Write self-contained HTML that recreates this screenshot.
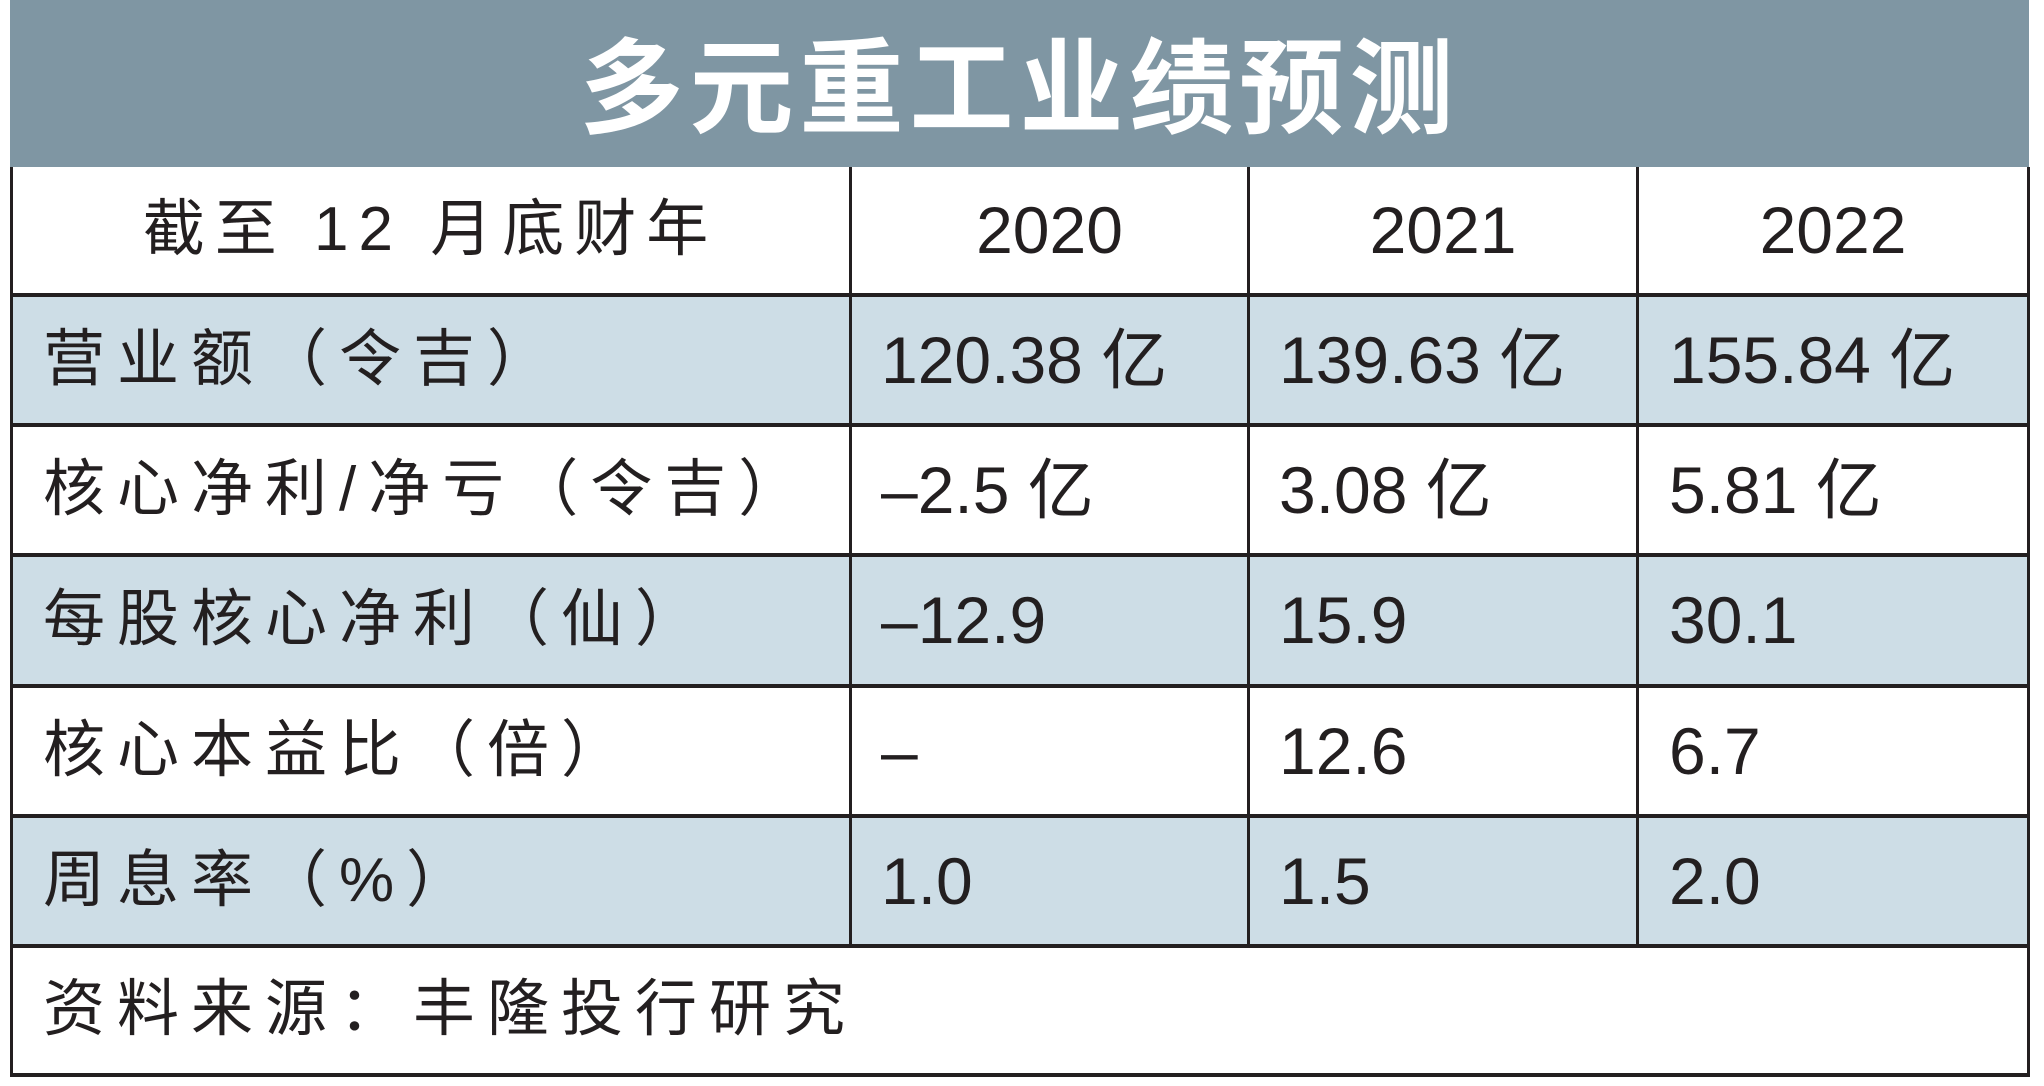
<!DOCTYPE html>
<html><head><meta charset="utf-8"><style>
html,body{margin:0;padding:0;background:#fff}
#wrap{position:relative;width:2044px;height:1086px;overflow:hidden;background:#fff;font-family:"Liberation Sans","Noto Sans CJK SC",sans-serif;color:#231f20}
.hdr{position:absolute;left:10px;top:0;width:2019px;height:167px;background:#7f96a3}
.title{position:absolute;left:10px;top:0;width:2019px;height:167px;line-height:160px;text-align:center;color:#fff;font-weight:bold;font-size:104px;letter-spacing:6px;font-family:"Noto Sans CJK SC",sans-serif}
.row{position:absolute;left:10px;width:2019px}
.blue{background:#cddde6}
.hl{position:absolute;left:10px;width:2020px;height:4px;background:#231f20}
.vl{position:absolute;width:3px;background:#231f20}
.cell{position:absolute;font-size:62px;line-height:62px;white-space:nowrap}
.num{font-size:66px;line-height:62px}
.lab{letter-spacing:12px}
.c{text-align:center}
</style></head><body>
<div id="wrap">
<div class="hdr"></div>
<div class="title">多元重工业绩预测</div>

<div class="row blue" style="top:295px;height:130px"></div>
<div class="row blue" style="top:555px;height:131px"></div>
<div class="row blue" style="top:816px;height:130px"></div>

<div class="hl" style="top:293px"></div>
<div class="hl" style="top:423px"></div>
<div class="hl" style="top:553px"></div>
<div class="hl" style="top:684px"></div>
<div class="hl" style="top:814px"></div>
<div class="hl" style="top:944px"></div>
<div class="hl" style="top:1073px"></div>
<div class="vl" style="left:10px;top:167px;height:909px"></div>
<div class="vl" style="left:2027px;top:167px;height:909px"></div>
<div class="vl" style="left:849px;top:167px;height:779px"></div>
<div class="vl" style="left:1247px;top:167px;height:779px"></div>
<div class="vl" style="left:1636px;top:167px;height:779px"></div>

<div class="cell c" style="left:12px;width:837px;top:199px;letter-spacing:10px">截至 12 月底财年</div>
<div class="cell c num" style="left:852px;width:395px;top:199px">2020</div>
<div class="cell c num" style="left:1250px;width:386px;top:199px">2021</div>
<div class="cell c num" style="left:1639px;width:388px;top:199px">2022</div>

<div class="cell lab" style="left:43px;top:329px">营业额（令吉）</div>
<div class="cell num" style="left:881px;top:329px">120.38 亿</div>
<div class="cell num" style="left:1279px;top:329px">139.63 亿</div>
<div class="cell num" style="left:1669px;top:329px">155.84 亿</div>

<div class="cell lab" style="left:43px;top:459px">核心净利/净亏（令吉）</div>
<div class="cell num" style="left:881px;top:459px">–2.5 亿</div>
<div class="cell num" style="left:1279px;top:459px">3.08 亿</div>
<div class="cell num" style="left:1669px;top:459px">5.81 亿</div>

<div class="cell lab" style="left:43px;top:589px">每股核心净利（仙）</div>
<div class="cell num" style="left:881px;top:589px">–12.9</div>
<div class="cell num" style="left:1279px;top:589px">15.9</div>
<div class="cell num" style="left:1669px;top:589px">30.1</div>

<div class="cell lab" style="left:43px;top:720px">核心本益比（倍）</div>
<div class="cell num" style="left:881px;top:720px">–</div>
<div class="cell num" style="left:1279px;top:720px">12.6</div>
<div class="cell num" style="left:1669px;top:720px">6.7</div>

<div class="cell lab" style="left:43px;top:850px">周息率（%）</div>
<div class="cell num" style="left:881px;top:850px">1.0</div>
<div class="cell num" style="left:1279px;top:850px">1.5</div>
<div class="cell num" style="left:1669px;top:850px">2.0</div>

<div class="cell lab" style="left:43px;top:979px">资料来源：丰隆投行研究</div>
</div>
</body></html>
